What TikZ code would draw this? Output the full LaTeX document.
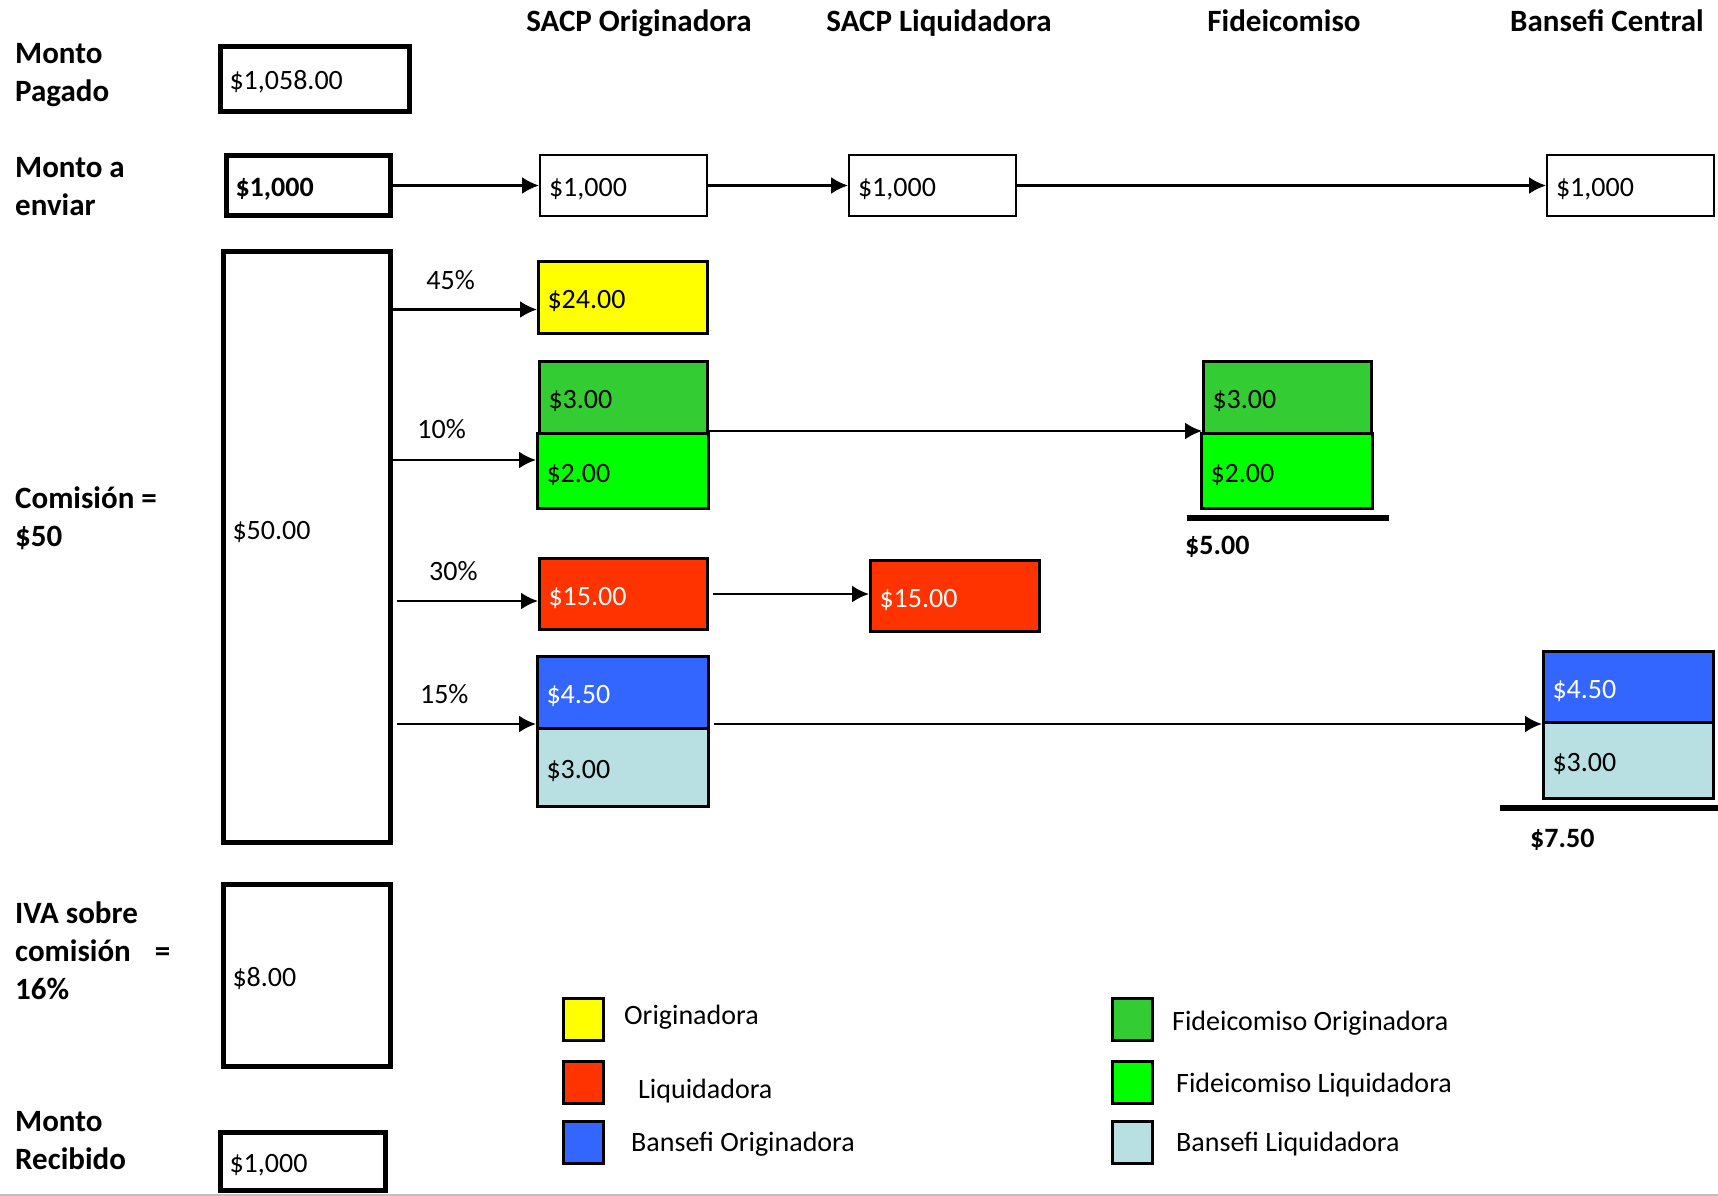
\documentclass[tikz,border=0pt]{standalone}
\usepackage{fontspec}
\setmainfont{Carlito}
\usepackage{tikz}
\usetikzlibrary{positioning}
\usetikzlibrary{arrows.meta}

\definecolor{orgYellow}{HTML}{FFFF00}
\definecolor{fidOrgGreen}{HTML}{33CC33}
\definecolor{fidLiqGreen}{HTML}{00FF00}
\definecolor{liqRed}{HTML}{FF3300}
\definecolor{banOrgBlue}{HTML}{3366FF}
\definecolor{banLiqBlue}{HTML}{B8DFE1}

\newcommand{\bodyfont}{\fontsize{28}{34}\selectfont}
\newcommand{\labelfont}{\fontsize{31}{38}\selectfont\bfseries}

\begin{document}
\begin{tikzpicture}[->,>={Latex[length=17pt,width=17pt]},x=1pt,y=-1pt,line width=2.4pt]
    \tikzstyle{cell}=[draw, anchor=north west, line width=2pt, inner xsep=9pt, inner ysep=0pt, text width=149pt, text height=22pt, text depth=0pt, align=left, font=\bodyfont]
    \tikzstyle{heavy}=[cell, line width=5pt]
    \tikzstyle{share}=[cell, line width=3pt]
    \tikzstyle{head}=[anchor=base, inner sep=0pt, font=\labelfont]
    \tikzstyle{side}=[anchor=north west, inner sep=0pt, align=left, font=\labelfont]
    \tikzstyle{pct}=[above=19pt, pos=0.4, inner sep=0pt, font=\bodyfont]
    \tikzstyle{total}=[anchor=base west, inner sep=0pt, font=\bodyfont\bfseries]
    \tikzstyle{swatch}=[draw, line width=3pt, minimum width=40pt, minimum height=42pt, inner sep=0pt]
    \tikzstyle{legtext}=[inner sep=0pt, font=\bodyfont]
    \tikzstyle{bar}=[-, line width=6pt]
    %\draw[help lines] (0,0) grid (1718,1196);
    \clip (0,0) rectangle (1718,1196);

    % column heads
    \node[head] (hOrg) at (639,32) {SACP Originadora};
    \node[head] (hLiq) at (939,32) {SACP Liquidadora};
    \node[head] (hFid) at (1284,32) {Fideicomiso};
    \node[head] (hBan) at (1607,32) {Bansefi Central};

    % row labels
    \node[side] (tPag) at (14,42) {Monto\\Pagado};
    \node[side] (tEnv) at (14,156) {Monto a\\enviar};
    \node[side] (tCom) at (14,486) {Comisión =\\\$50};
    \node[side] (tIva) at (14,901) {IVA sobre\\comisión\hspace{24pt}=\\16\%};
    \node[side] (tRec) at (14,1110) {Monto\\Recibido};

    \node[heavy, text width=171pt, minimum height=65pt] (pag) at (218,44) {\$1,058.00};
    \node[heavy, text width=146pt, minimum height=60pt, font=\bodyfont\bfseries] (env) at (224,153) {\$1,000};
    \node[heavy, minimum height=591pt, text depth=38pt] (com) at (221,249) {\$50.00};
    \node[heavy, minimum height=182pt] (iva) at (221,882) {\$8.00};
    \node[heavy, text width=147pt, minimum height=58pt] (rec) at (218,1130) {\$1,000};

    \node[cell, minimum height=61pt] (orgEnv) at (539,154) {\$1,000};
    \node[cell, minimum height=61pt] (liqEnv) at (848,154) {\$1,000};
    \node[cell, minimum height=61pt] (banEnv) at (1546,154) {\$1,000};

    \node[share, fill=orgYellow, text width=151pt, minimum height=72pt] (orgY) at (537,260) {\$24.00};
    \node[share, fill=fidOrgGreen, text width=150pt, minimum height=72pt] (orgFO) at (538,360) {\$3.00};
    \node[share, fill=fidLiqGreen, text width=153pt, minimum height=75pt] (orgFL) at (536,432) {\$2.00};
    \node[share, fill=liqRed, text=white, text width=150pt, minimum height=71pt] (orgL) at (538,557) {\$15.00};
    \node[share, fill=liqRed, text=white, text width=151pt, minimum height=71pt] (liqL) at (869,559) {\$15.00};
    \node[share, fill=banOrgBlue, text=white, text width=153pt, minimum height=72pt] (orgBO) at (536,655) {\$4.50};
    \node[share, fill=banLiqBlue, text width=153pt, minimum height=78pt] (orgBL) at (536,727) {\$3.00};

    \node[share, fill=fidOrgGreen, text width=150pt, minimum height=72pt] (fidFO) at (1202,360) {\$3.00};
    \node[share, fill=fidLiqGreen, text width=153pt, minimum height=75pt] (fidFL) at (1200,432) {\$2.00};
    \node[share, fill=banOrgBlue, text=white, text width=152pt, minimum height=71pt] (banBO) at (1542,650) {\$4.50};
    \node[share, fill=banLiqBlue, text width=152pt, minimum height=76pt] (banBL) at (1542,721) {\$3.00};

    \coordinate (t45) at ([yshift=-12pt]orgY.west);
    \coordinate (t10) at ([yshift=11pt]orgFL.west);
    \coordinate (t30) at ([yshift=-7pt]orgL.west);
    \coordinate (t15) at ([yshift=6pt]orgBO.south west);

    \path
        (env) edge (orgEnv)
        (orgEnv) edge (liqEnv)
        (liqEnv) edge (banEnv)
        (com.east |- t45) edge node[pct] {45\%} (t45)
        (com.east |- t10) edge node[pct, pos=0.34, above=20pt] {10\%} (t10)
        ([xshift=4pt]com.east |- t30) edge node[pct] {30\%} (t30)
        ([xshift=4pt]com.east |- t15) edge node[pct, pos=0.34] {15\%} (t15)
        ([yshift=4pt]orgFO.south east) edge ([yshift=4pt]fidFO.south west)
        ([xshift=4pt]orgL.east) edge (orgL.east -| liqL.west)
        ([xshift=4pt]orgBO.east |- banBO.south west) edge (banBO.south west)
    ;

    % totals
    \draw[bar] ([xshift=-13pt,yshift=-8pt]fidFL.south west) -- ([xshift=15pt,yshift=-8pt]fidFL.south east);
    \draw[bar] ([xshift=-42pt,yshift=-8pt]banBL.south west) -- ([xshift=5pt,yshift=-8pt]banBL.south east);
    \node[total] (sumFid) at (1184,554) {\$5.00};
    \node[total] (sumBan) at (1529,847) {\$7.50};

    % legend
    \node[swatch, fill=orgYellow] (swY) at (583.5,1019.5) {};
    \node[swatch, fill=liqRed] (swL) at (583.5,1082) {};
    \node[swatch, fill=banOrgBlue] (swBO) at (583.5,1142.5) {};
    \node[swatch, fill=fidOrgGreen] (swFO) at (1132.5,1019.5) {};
    \node[swatch, fill=fidLiqGreen] (swFL) at (1132.5,1082) {};
    \node[swatch, fill=banLiqBlue] (swBL) at (1132.5,1142.5) {};
    \node[legtext, right=18pt of swY, yshift=2pt] (kY) {Originadora};
    \node[legtext, right=32pt of swL, yshift=-9pt] (kL) {Liquidadora};
    \node[legtext, right=25pt of swBO, yshift=-2pt] (kBO) {Bansefi Originadora};
    \node[legtext, right=17pt of swFO, yshift=-4pt] (kFO) {Fideicomiso Originadora};
    \node[legtext, right=21pt of swFL, yshift=-3pt] (kFL) {Fideicomiso Liquidadora};
    \node[legtext, right=21pt of swBL, yshift=-2pt] (kBL) {Bansefi Liquidadora};

    \draw[-, black!25, line width=2.5pt] (0,1195) -- (1718,1195);
\end{tikzpicture}
\end{document}
